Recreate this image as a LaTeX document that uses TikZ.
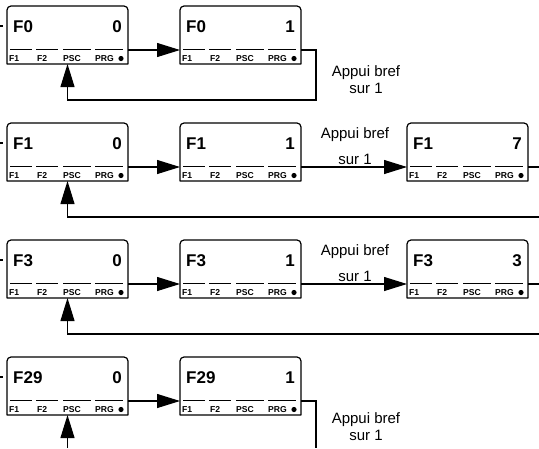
\documentclass[tikz,border=0pt]{standalone}
\usepackage{fontspec}
\setmainfont{Liberation Sans}
\usetikzlibrary{arrows.meta}
\tikzset{
  boxnode/.style={draw=none,minimum width=121pt,minimum height=58pt,inner sep=0pt,outer sep=0pt},
  boxline/.style={line width=1.2pt,line join=round},
  segline/.style={line width=1pt},
  titlefont/.style={font=\fontsize{17}{17}\selectfont\bfseries,inner sep=0pt},
  keyfont/.style={font=\fontsize{8.6}{8.6}\selectfont\bfseries,inner sep=0pt},
  lbl/.style={font=\fontsize{15}{17}\selectfont,align=center,inner sep=0pt},
  conn/.style={line width=1.1pt},
  arr/.style={line width=1.1pt,-{Triangle[length=23pt,width=14pt]}},
}
\newcommand\dbox[5]{%
  \node[boxnode] (#1) at ({#2+60.5},{#3+29}) {};
  \draw[boxline] (#1.south west) -- ([yshift=-4pt]#1.north west)
     arc[start angle=180,end angle=90,radius=4pt] -- ([xshift=-4pt]#1.north east)
     arc[start angle=90,end angle=0,radius=4pt] -- (#1.south east) -- cycle;
  \path (#1.north west) ++(6,21) node[anchor=west,titlefont] (#1t) {#4};
  \path (#1.north east) ++(-6,21) node[anchor=east,titlefont] (#1v) {#5};
  \foreach \a/\b in {3/22,29/22,56/28,88/28}
    \draw[segline] (#1.north west) ++(\a,43) -- ++(\b,0);
  \path (#1.north west) ++(2,52.5) node[anchor=west,keyfont] (#1k1) {F1};
  \path (#1.north west) ++(30,52.5) node[anchor=west,keyfont] (#1k2) {F2};
  \path (#1.north west) ++(56,52.5) node[anchor=west,keyfont] (#1k3) {PSC};
  \path (#1.north west) ++(88,52.5) node[anchor=west,keyfont] (#1k4) {PRG};
  \fill (#1.north west) ++(114,52.5) circle[radius=2.6pt];
}
\begin{document}
\begin{tikzpicture}[x=1pt,y=-1pt]
\useasboundingbox (0,0) rectangle (539,448);
% Row 1
\dbox{r1a}{7}{6}{F0}{0}
\dbox{r1b}{180}{6}{F0}{1}
\coordinate (s1) at (0,26);
\draw[conn] (s1) -- ++(2.5,0);
\draw[arr] ([yshift=-15pt]r1a.east) -- ([yshift=-15pt]r1b.west);
\draw[arr] ([yshift=-15pt]r1b.east) -- ++(15,0) -- ++(0,50) -| (r1a.south);
\node[lbl] (l1) at (366,80) {Appui bref\\sur 1};
% Row 2
\dbox{r2a}{7}{123}{F1}{0}
\dbox{r2b}{180}{123}{F1}{1}
\dbox{r2c}{407}{123}{F1}{7}
\coordinate (s2) at (0,143);
\draw[conn] (s2) -- ++(2.5,0);
\draw[arr] ([yshift=-15pt]r2a.east) -- ([yshift=-15pt]r2b.west);
\draw[arr] ([yshift=-15pt]r2b.east) -- ([yshift=-15pt]r2c.west);
\coordinate (o2) at (539,167);
\draw[conn] ([yshift=-15pt]r2c.east) -- (o2);
\coordinate (f2) at (539,217);
\draw[arr] (f2) -| (r2a.south);
\node[lbl] (l2a) at (355,135) {Appui bref};
\node[lbl] (l2b) at (355,159) {sur 1};
% Row 3
\dbox{r3a}{7}{240}{F3}{0}
\dbox{r3b}{180}{240}{F3}{1}
\dbox{r3c}{407}{240}{F3}{3}
\coordinate (s3) at (0,260);
\draw[conn] (s3) -- ++(2.5,0);
\draw[arr] ([yshift=-15pt]r3a.east) -- ([yshift=-15pt]r3b.west);
\draw[arr] ([yshift=-15pt]r3b.east) -- ([yshift=-15pt]r3c.west);
\coordinate (o3) at (539,284);
\draw[conn] ([yshift=-15pt]r3c.east) -- (o3);
\coordinate (f3) at (539,334);
\draw[arr] (f3) -| (r3a.south);
\node[lbl] (l3a) at (355,252) {Appui bref};
\node[lbl] (l3b) at (355,276) {sur 1};
% Row 4
\dbox{r4a}{7}{357}{F29}{0}
\dbox{r4b}{180}{357}{F29}{1}
\coordinate (s4) at (0,377);
\draw[conn] (s4) -- ++(2.5,0);
\draw[arr] ([yshift=-15pt]r4a.east) -- ([yshift=-15pt]r4b.west);
\coordinate (e4) at (316,448);
\draw[conn] ([yshift=-15pt]r4b.east) -| (e4);
\coordinate (u4) at (67.5,448);
\draw[arr] (u4) -- (r4a.south);
\node[lbl] (l4) at (366,427) {Appui bref\\sur 1};
\end{tikzpicture}
\end{document}
